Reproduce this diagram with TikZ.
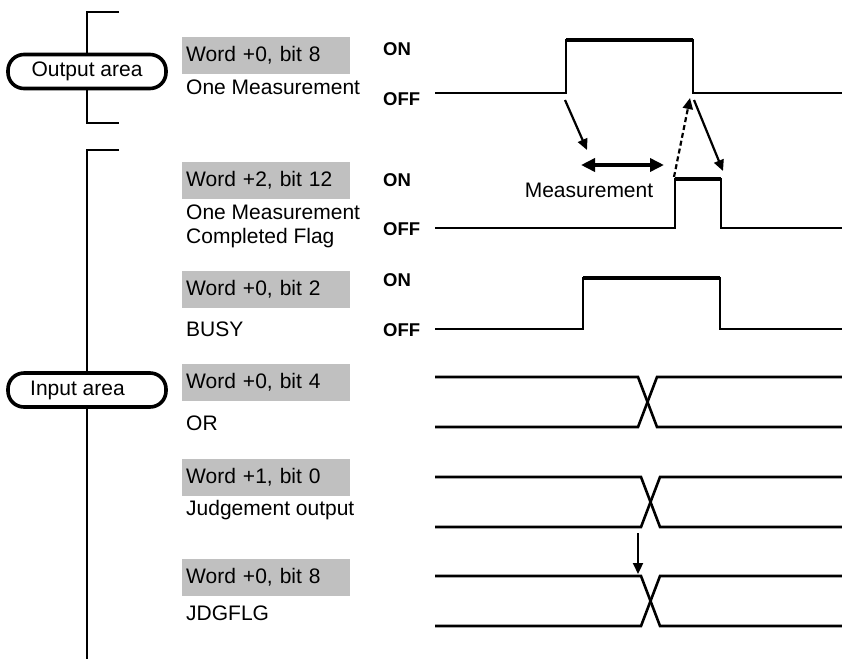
\documentclass[tikz,border=0pt]{standalone}
\usepackage{fontspec}
\setmainfont{Liberation Sans}
\usetikzlibrary{arrows.meta,positioning}
\definecolor{boxgray}{RGB}{192,192,192}

\begin{document}
\begin{tikzpicture}[
    x=1pt, y=-1pt,
    font=\fontsize{21}{24}\selectfont,
    area/.style={draw, line width=3.6pt, fill=white, rounded corners=16pt, minimum width=158pt, minimum height=34pt, inner sep=0pt},
    word/.style={fill=boxgray, anchor=north west, minimum height=37pt, text width=160pt, inner xsep=4pt, inner ysep=0pt, align=left},
    desc/.style={inner sep=0pt, align=left},
    level/.style={anchor=west, inner sep=0pt, font=\fontsize{18.5}{20}\selectfont\bfseries},
    wave/.style={line width=2.6pt},
    high/.style={line width=4pt},
    arrow/.style={-{Triangle[length=11pt,width=10pt]}, line width=2.2pt}
  ]
    \useasboundingbox (0,0) rectangle (842,659);

    % areas
    \node[area] (oa) at (87,71.5) {Output area};
    \node[area] (ia) at (87,390) {Input area\hspace*{19pt}};
    \draw[wave] (119,12) -| (oa.north);
    \draw[wave] (oa.south) |- (119,123);
    \draw[wave] (119,150) -| (ia.north);
    \draw[wave] (ia.south) -- (ia.south |- 0,659);

    % signal names
    \node[word] (w1) at (182,37) {Word +0, bit 8};
    \node[word] (w2) at (182,162) {Word +2, bit 12};
    \node[word] (w3) at (182,271) {Word +0, bit 2};
    \node[word] (w4) at (182,364) {Word +0, bit 4};
    \node[word] (w5) at (182,459) {Word +1, bit 0};
    \node[word] (w6) at (182,559) {Word +0, bit 8};
    \node[desc, below right=5pt and 4pt of w1.south west] (d1) {One Measurement};
    \node[desc, below right=5pt and 4pt of w2.south west] (d2) {One Measurement\\Completed Flag};
    \node[desc, below right=13pt and 4pt of w3.south west] (d3) {BUSY};
    \node[desc, below right=14pt and 4pt of w4.south west] (d4) {OR};
    \node[desc, below right=4pt and 4pt of w5.south west] (d5) {Judgement output};
    \node[desc, below right=9pt and 4pt of w6.south west] (d6) {JDGFLG};

    % ON/OFF
    \node[level] (on1) at (383,49) {ON};
    \node[level] (off1) at (383,99) {OFF};
    \node[level] (on2) at (383,180) {ON};
    \node[level] (off2) at (383,229) {OFF};
    \node[level] (on3) at (383,280) {ON};
    \node[level] (off3) at (383,330) {OFF};

    % pulses
    \draw[wave] (435,93) -| (566,40) -| (693,93) -- (842,93);
    \draw[high] (566,40) -- (693,40);
    \draw[wave] (435,228) -| (675,179) -| (721,228) -- (842,228);
    \draw[high] (675,179) -- (721,179);
    \draw[wave] (435,329) -| (583,278) -| (720,329) -- (842,329);
    \draw[high] (583,278) -- (720,278);

    % data lines
    \foreach \y/\c in {377/638, 477/641, 576/641} {
      \draw[wave] (435,\y) -- (\c,\y) -- (\c+19,\y+50) -- (842,\y+50);
      \draw[wave] (435,\y+50) -- (\c,\y+50) -- (\c+19,\y) -- (842,\y);
    }

    % timing arrows
    \coordinate (rise1) at (565,100);
    \coordinate (mstart) at (587,150);
    \coordinate (ml) at (581,165);
    \coordinate (mr) at (664,165);
    \coordinate (rise2) at (674,177);
    \coordinate (fall1) at (690,98);
    \coordinate (fall1b) at (694,100);
    \coordinate (fall2) at (723,171);
    \coordinate (jtop) at (638,533);
    \coordinate (jbot) at (638,574);
    \draw[arrow] (rise1) -- (mstart);
    \draw[{Triangle[length=14pt,width=13pt]}-{Triangle[length=14pt,width=13pt]}, line width=4pt] (ml) -- (mr);
    \draw[arrow, dash pattern=on 5pt off 3pt] (rise2) -- (fall1);
    \draw[arrow] (fall1b) -- (fall2);
    \draw[arrow] (jtop) -- (jbot);
    \node[desc] (meas) at (589,190) {Measurement};
  \end{tikzpicture}
\end{document}
